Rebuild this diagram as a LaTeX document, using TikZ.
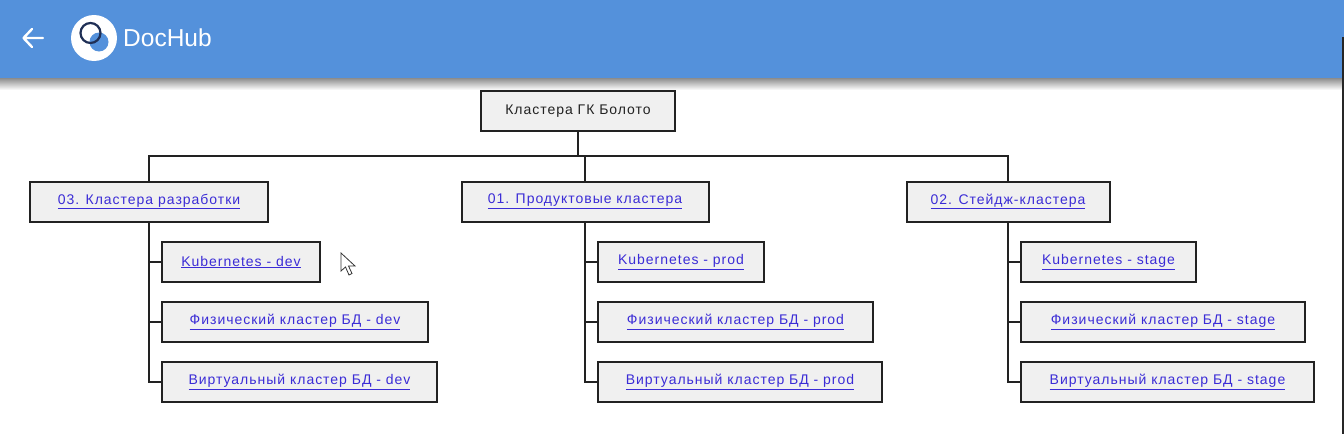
\documentclass[tikz,border=0pt]{standalone}
\usepackage{fontspec}
\setmainfont{Liberation Sans}[LetterSpace=7]
\newfontfamily\titlefont{Liberation Sans}
\usepackage{xcolor}
\definecolor{barblue}{HTML}{5491DB}
\definecolor{linkblue}{HTML}{3B2CD6}
\definecolor{boxgray}{HTML}{F0F0F0}
\definecolor{inkgray}{HTML}{222222}
\definecolor{ringblue}{HTML}{1F2F55}
\newcommand{\lnk}[1]{\textcolor{linkblue}{\underline{#1}}}
\tikzset{
    x=1pt, y=-1pt,
    box/.style={draw=inkgray, line width=2pt, fill=boxgray, font=\fontsize{14}{16}\selectfont, inner sep=0pt, minimum height=40pt, text=inkgray},
    wire/.style={draw=inkgray, line width=2pt},
}
\begin{document}
\begin{tikzpicture}
    \useasboundingbox (0,0) rectangle (1344,434);
    % top bar
    \shade[top color=black!45, bottom color=white] (0,78) rectangle (1344,90);
    \fill[barblue] (0,0) rectangle (1344,78);
    \draw[white, line width=2.4pt, line cap=round, line join=round] (24,38) -- (43,38) (32,29) -- (23.5,38) -- (32,47);
    \fill[white] (94,38) circle (23);
    \fill[barblue] (99,42) circle (9.5);
    \draw[ringblue, line width=2.2pt] (90.5,33) circle (10);
    \node[anchor=west, text=white, inner sep=0pt, font=\titlefont\fontsize{24.5}{28}\selectfont] (title) at (123,38) {DocHub};
    \draw[black!85, line width=1.5pt] (1343.2,37) -- (1343.2,434);
    % nodes
    \node[box, minimum width=194pt] (root) at (578,111) {Кластера ГК Болото};
    \node[box, minimum width=238pt] (dev) at (149,201.5) {\lnk{03. Кластера разработки}};
    \node[box, minimum width=247pt] (prod) at (585,201.5) {\lnk{01. Продуктовые кластера}};
    \node[box, minimum width=203pt] (stage) at (1008,201.5) {\lnk{02. Стейдж-кластера}};

    \node[box, minimum width=158pt, anchor=west] (kdev) at (161,262) {\lnk{Kubernetes - dev}};
    \node[box, minimum width=266pt, anchor=west] (fdev) at (161,322) {\lnk{Физический кластер БД - dev}};
    \node[box, minimum width=275pt, anchor=west] (vdev) at (161,382) {\lnk{Виртуальный кластер БД - dev}};

    \node[box, minimum width=166pt, anchor=west] (kprod) at (597,262) {\lnk{Kubernetes - prod}};
    \node[box, minimum width=275pt, anchor=west] (fprod) at (597,322) {\lnk{Физический кластер БД - prod}};
    \node[box, minimum width=284pt, anchor=west] (vprod) at (597,382) {\lnk{Виртуальный кластер БД - prod}};

    \node[box, minimum width=175pt, anchor=west] (kstage) at (1020,262) {\lnk{Kubernetes - stage}};
    \node[box, minimum width=284pt, anchor=west] (fstage) at (1020,322) {\lnk{Физический кластер БД - stage}};
    \node[box, minimum width=293pt, anchor=west] (vstage) at (1020,382) {\lnk{Виртуальный кластер БД - stage}};

    % edges
    \coordinate (bus) at (578,156);
    \draw[wire] (root.south) -- (bus);
    \foreach \grp in {dev,prod,stage}{
        \draw[wire] (\grp.north) -- (\grp.north |- bus);
    }
    \draw[wire, line cap=rect] (dev.north |- bus) -- (stage.north |- bus);
    \draw[wire] (dev.south) |- (kdev.west);
    \draw[wire] (dev.south) |- (fdev.west);
    \draw[wire] (dev.south) |- (vdev.west);
    \draw[wire] (prod.south) |- (kprod.west);
    \draw[wire] (prod.south) |- (fprod.west);
    \draw[wire] (prod.south) |- (vprod.west);
    \draw[wire] (stage.south) |- (kstage.west);
    \draw[wire] (stage.south) |- (fstage.west);
    \draw[wire] (stage.south) |- (vstage.west);
    % pointer
    \draw[black!80, fill=white, line width=0.8pt, line join=miter] (341,253) -- (341,271) -- (345.5,267) -- (349,275) -- (352,273.5) -- (348.5,266) -- (355,266) -- cycle;
\end{tikzpicture}
\end{document}
